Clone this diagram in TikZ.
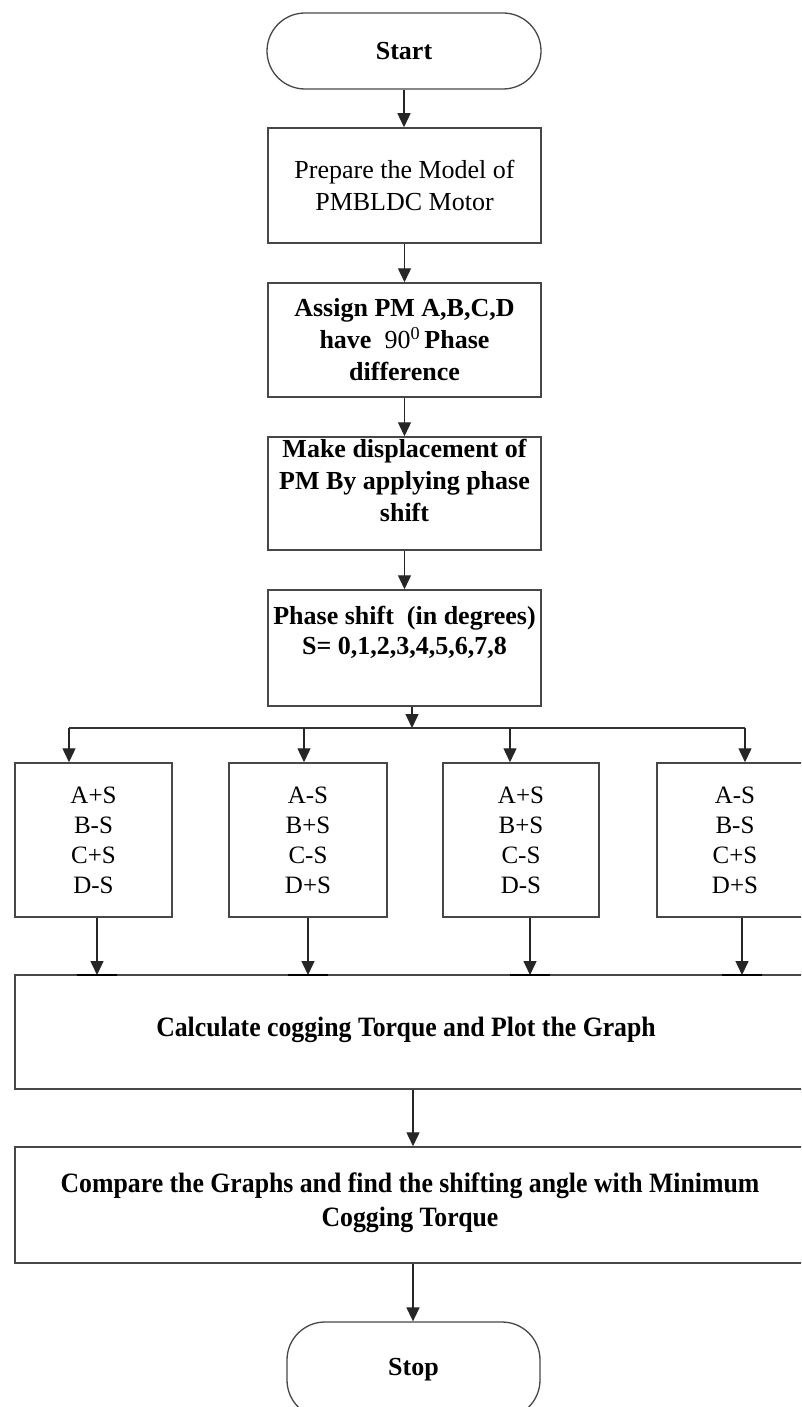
\documentclass[tikz,border=0pt]{standalone}
\usepackage{fontspec}
\setmainfont{Liberation Serif}
\newfontfamily\condfont[FakeStretch=0.92]{Liberation Serif}
\usetikzlibrary{arrows.meta}
\tikzset{
  boxshape/.style={draw=black!72, line width=1.5pt, rectangle, inner sep=0pt},
  termshape/.style={draw=black!72, line width=1.3pt, rectangle, rounded corners=38pt, inner sep=0pt},
  lbl/.style={align=center, inner sep=0pt, text=black, font=\fontsize{26}{32}\selectfont},
  blbl/.style={align=center, inner sep=0pt, text=black, font=\fontsize{26}{32}\selectfont\bfseries},
  clbl/.style={align=center, inner sep=0pt, text=black, font=\condfont\fontsize{28}{34}\selectfont\bfseries},
  conn/.style={draw=black!85, line width=1.4pt, -{Triangle[length=14pt,width=13pt]}},
  plainline/.style={draw=black!80, line width=1.4pt},
  tickline/.style={draw=black, line width=2.2pt},
}
\newcommand{\mkbox}[6]{%
  \node[#1, minimum width={(#4-#2)*1pt}, minimum height={(#5-#3)*1pt}] (#6) at ({(#2+#4)/2},{(#3+#5)/2}) {};}
\begin{document}
\begin{tikzpicture}[x=1pt, y=-1pt]
\useasboundingbox (0,0) rectangle (801,1407);
\clip (0,0) rectangle (801,1407);
\fill[white] (0,0) rectangle (801,1407);

% main column
\mkbox{termshape}{267}{13}{541}{89}{start}
\node[blbl] (starttxt) at (start.center) {Start};
\mkbox{boxshape}{268}{128}{541}{243}{prep}
\node[lbl] (preptxt) at (404.5,185) {Prepare the Model of\\PMBLDC Motor};
\mkbox{boxshape}{268}{283}{541}{397}{assign}
\node[blbl] (assigntxt) at (404.5,340) {Assign PM A,B,C,D\\have\ \ {\mdseries 90\textsuperscript{0}}\,Phase\\difference};
\mkbox{boxshape}{268}{437}{541}{550}{make}
\node[blbl] (maketxt) at (404.5,480) {Make displacement of\\PM By applying phase\\shift};
\mkbox{boxshape}{268}{590}{541}{706}{phase}
\node[blbl, font=\fontsize{26}{30}\selectfont\bfseries] (phasetxt) at (404.5,632) {Phase shift\ \ (in degrees)\\S= 0,1,2,3,4,5,6,7,8};

\draw[conn] (start.south) -- (start.south |- prep.north);
\draw[conn] (prep.south) -- (prep.south |- assign.north);
\draw[conn] (assign.south) -- (assign.south |- make.north);
\draw[conn] (make.south) -- (make.south |- phase.north);

% branch
\coordinate (j) at (412,728);
\coordinate (j1) at (69,728);
\coordinate (j2) at (304,728);
\coordinate (j3) at (510,728);
\coordinate (j4) at (745,728);
\draw[conn] (phase.south -| j) -- (j);
\draw[plainline] (j1) -- (j4);

\mkbox{boxshape}{15}{763}{172}{917}{b1}
\mkbox{boxshape}{229}{763}{387}{917}{b2}
\mkbox{boxshape}{443}{763}{599}{917}{b3}
\mkbox{boxshape}{657}{763}{813}{917}{b4}
\node[lbl, font=\fontsize{25}{30}\selectfont] (t1) at (93.5,840) {A+S\\B-S\\C+S\\D-S};
\node[lbl, font=\fontsize{25}{30}\selectfont] (t2) at (308,840) {A-S\\B+S\\C-S\\D+S};
\node[lbl, font=\fontsize{25}{30}\selectfont] (t3) at (521,840) {A+S\\B+S\\C-S\\D-S};
\node[lbl, font=\fontsize{25}{30}\selectfont] (t4) at (735,840) {A-S\\B-S\\C+S\\D+S};

\draw[conn] (j1) -- (j1 |- b1.north);
\draw[conn] (j2) -- (j2 |- b2.north);
\draw[conn] (j3) -- (j3 |- b3.north);
\draw[conn] (j4) -- (j4 |- b4.north);

% calculate
\mkbox{boxshape}{15}{975}{811}{1089}{calc}
\node[clbl] (calctxt) at (406,1030) {Calculate cogging Torque and Plot the Graph};

\coordinate (k1) at (97,975);
\coordinate (k2) at (308,975);
\coordinate (k3) at (530,975);
\coordinate (k4) at (742,975);
\draw[conn] (b1.south -| k1) -- (k1);
\draw[conn] (b2.south -| k2) -- (k2);
\draw[conn] (b3.south -| k3) -- (k3);
\draw[conn] (b4.south -| k4) -- (k4);
\draw[tickline] ([xshift=-20pt]k1) -- ([xshift=20pt]k1);
\draw[tickline] ([xshift=-20pt]k2) -- ([xshift=20pt]k2);
\draw[tickline] ([xshift=-20pt]k3) -- ([xshift=20pt]k3);
\draw[tickline] ([xshift=-20pt]k4) -- ([xshift=20pt]k4);

% compare
\mkbox{boxshape}{15}{1147}{811}{1263}{cmp}
\node[clbl] (cmptxt) at (410,1203) {Compare the Graphs and find the shifting angle with Minimum\\Cogging Torque};

\mkbox{termshape}{287}{1322}{540}{1418}{stop}
\node[blbl] (stoptxt) at (stop.center) {Stop};

\draw[conn] (calc.south) -- (calc.south |- cmp.north);
\draw[conn] (cmp.south) -- (cmp.south |- stop.north);
\end{tikzpicture}
\end{document}
